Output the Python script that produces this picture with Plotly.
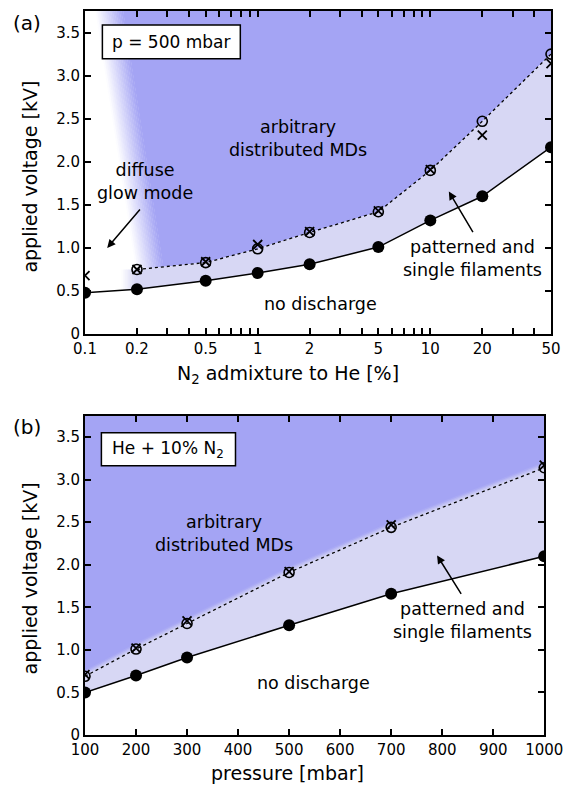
import numpy as np
import plotly.graph_objects as go

# ---------------- data ----------------
# (a) N2 admixture scan at p = 500 mbar
n2_pct = [0.1, 0.2, 0.5, 1, 2, 5, 10, 20, 50]
a_onset = [0.48, 0.52, 0.62, 0.71, 0.81, 1.01, 1.32, 1.60, 2.17]
a_upper_circle = [None, 0.75, 0.83, 0.99, 1.18, 1.42, 1.90, 2.47, 3.25]
a_upper_cross = [0.68, 0.75, 0.84, 1.04, 1.19, 1.43, 1.91, 2.31, 3.14]
n2_tick_vals = [0.1, 0.2, 0.5, 1, 2, 5, 10, 20, 50]
n2_tick_text = ["0.1", "0.2", "0.5", "1", "2", "5", "10", "20", "50"]
n2_minor_vals = [0.3, 0.4, 0.6, 0.7, 0.8, 0.9, 3, 4, 6, 7, 8, 9, 30, 40]

# (b) pressure scan, He + 10% N2
pressure = [100, 200, 300, 500, 700, 1000]
b_onset = [0.50, 0.70, 0.91, 1.29, 1.66, 2.10]
b_upper_circle = [0.69, 1.01, 1.31, 1.91, 2.44, 3.14]
b_upper_cross = [0.71, 1.02, 1.34, 1.92, 2.47, 3.17]
p_tick_vals = [100, 200, 300, 400, 500, 600, 700, 800, 900, 1000]

volt_tick_vals = [0, 0.5, 1.0, 1.5, 2.0, 2.5, 3.0, 3.5]
volt_tick_text = ["0", "0.5", "1.0", "1.5", "2.0", "2.5", "3.0", "3.5"]

V_MAX = 3.75
FONT = "DejaVu Sans"
DARK = (164, 164, 244)
LIGHT = (215, 215, 244)
WHITE = (255, 255, 255)


def blend(c0, c1, t):
    r, g, b = (round(a + (b_ - a) * t) for a, b_ in zip(c0, c1))
    return f"rgb({r},{g},{b})"


fig = go.Figure()


def poly(xs, ys, color, xa, ya):
    fig.add_trace(go.Scatter(
        x=list(xs) + [xs[0]], y=list(ys) + [ys[0]], mode="lines",
        fill="toself", fillcolor=color, line=dict(width=0),
        hoverinfo="skip", showlegend=False, xaxis=xa, yaxis=ya))


# ---------------- panel (a) regions ----------------
xa_min, xa_max = n2_pct[0], n2_pct[-1]
up_x = n2_pct[1:]
up_y = a_upper_circle[1:]

# slanted soft edge between the diffuse-glow and MD regions (log-x vs voltage)
U0, SLOPE, HW, NS = -0.566, -0.0783, 0.08, 16


def edge_x(v, off):
    return 10 ** (U0 + SLOPE * v + off)


for k in range(NS):
    lo = -HW + 2 * HW * k / NS
    hi = -HW + 2 * HW * (k + 1) / NS + 0.002
    poly([edge_x(V_MAX, lo), edge_x(V_MAX, hi), edge_x(0, hi), edge_x(0, lo)],
         [V_MAX, V_MAX, 0, 0], blend(WHITE, DARK, (k + 0.5) / NS), "x", "y")
poly([edge_x(V_MAX, HW), xa_max, xa_max, edge_x(0, HW)],
     [V_MAX, V_MAX, 0, 0], blend(WHITE, DARK, 1), "x", "y")

# everything below the upper threshold curve is cleared
poly([xa_min] + up_x + [xa_max, xa_min], [up_y[0]] + up_y + [0, 0],
     "white", "x", "y")

# soft left edge of the filamentary region
C_L, HWL, NL = -0.75, 0.04, 8
for k in range(NL):
    lo = C_L - HWL + 2 * HWL * k / NL
    hi = C_L - HWL + 2 * HWL * (k + 1) / NL + 0.002
    poly([10 ** lo, 10 ** hi, 10 ** hi, 10 ** lo], [0, 0, up_y[0], up_y[0]],
         blend(WHITE, LIGHT, (k + 0.5) / NL), "x", "y")
xr = 10 ** (C_L + HWL)
poly([xr] + up_x + [xa_max, xr], [up_y[0]] + up_y + [0, 0],
     blend(WHITE, LIGHT, 1), "x", "y")

# no discharge below the ignition curve
poly([xa_min] + n2_pct + [xa_max], [0] + a_onset + [0], "white", "x", "y")

# ---------------- panel (b) regions ----------------
xb_min, xb_max = pressure[0], pressure[-1]
poly([xb_min, xb_max, xb_max, xb_min], [0, 0, V_MAX, V_MAX],
     blend(WHITE, DARK, 1), "x2", "y2")
SOFT, NB = 0.07, 4
for k in range(NB, 0, -1):
    off = SOFT * k / NB
    ys = [v + off for v in b_upper_circle]
    poly([xb_min] + pressure + [xb_max], [0] + ys + [0],
         blend(LIGHT, DARK, (k - 0.5) / NB), "x2", "y2")
poly([xb_min] + pressure + [xb_max], [0] + b_upper_circle + [0],
     blend(WHITE, LIGHT, 1), "x2", "y2")
poly([xb_min] + pressure + [xb_max], [0] + b_onset + [0], "white", "x2", "y2")


# ---------------- lines and markers ----------------
def series(xs, onset, circ, cross, xa, ya):
    fig.add_trace(go.Scatter(x=xs, y=circ, mode="lines", connectgaps=False,
                             line=dict(color="black", width=1.3, dash="dot"),
                             showlegend=False, xaxis=xa, yaxis=ya))
    fig.add_trace(go.Scatter(x=xs, y=onset, mode="lines+markers",
                             line=dict(color="black", width=1.5),
                             marker=dict(symbol="circle", size=12, color="black"),
                             showlegend=False, xaxis=xa, yaxis=ya))
    fig.add_trace(go.Scatter(x=xs, y=circ, mode="markers",
                             marker=dict(symbol="circle-open", size=10,
                                         color="black", line=dict(width=1.6)),
                             showlegend=False, xaxis=xa, yaxis=ya))
    fig.add_trace(go.Scatter(x=xs, y=cross, mode="markers",
                             marker=dict(symbol="x-thin-open", size=9,
                                         color="black", line=dict(width=1.8)),
                             showlegend=False, xaxis=xa, yaxis=ya))


series(n2_pct, a_onset, a_upper_circle, a_upper_cross, "x", "y")
series(pressure, b_onset, b_upper_circle, b_upper_cross, "x2", "y2")

# ---------------- axes ----------------
axis_common = dict(showline=True, linewidth=2, linecolor="black", mirror="ticks",
                   ticks="inside", ticklen=6, tickwidth=2, tickcolor="black",
                   showgrid=False, zeroline=False,
                   tickfont=dict(family=FONT, size=15, color="black"))

fig.update_layout(
    width=579, height=789,
    margin=dict(l=85, r=11, t=9, b=54),
    paper_bgcolor="white", plot_bgcolor="white",
    font=dict(family=FONT, color="black"),
    xaxis=dict(type="log", range=[np.log10(xa_min), np.log10(xa_max)],
               tickvals=n2_tick_vals, ticktext=n2_tick_text,
               minor=dict(tickvals=n2_minor_vals, ticks="inside", ticklen=6,
                          tickwidth=2, tickcolor="black"),
               domain=[0, 1], anchor="y", **axis_common),
    yaxis=dict(range=[0, V_MAX], tickvals=volt_tick_vals, ticktext=volt_tick_text,
               domain=[0.5537, 1], anchor="x", **axis_common),
    xaxis2=dict(range=[xb_min, xb_max], tickvals=p_tick_vals,
                domain=[0, 0.9855], anchor="y2", **axis_common),
    yaxis2=dict(range=[0, V_MAX], tickvals=volt_tick_vals, ticktext=volt_tick_text,
                domain=[0, 0.4408], anchor="x2", **axis_common),
)

# ---------------- text ----------------
TXT = 17.5


def label(text, x, y, xref, yref, size=TXT, xanchor="center", **kw):
    fig.add_annotation(text=text, x=x, y=y, xref=xref, yref=yref,
                       xanchor=xanchor, yanchor="middle",
                       showarrow=False, font=dict(family=FONT, size=size,
                                                  color="black"), **kw)


def arrow(x, y, ax, ay, xref, yref):
    fig.add_annotation(text="", x=x, y=y, xref=xref, yref=yref, ax=ax, ay=ay,
                       showarrow=True, arrowhead=2, arrowsize=1.1,
                       arrowwidth=1.5, arrowcolor="black")


lg = np.log10
label("arbitrary<br>distributed MDs", lg(1.72), 2.27, "x", "y")
label("diffuse<br>glow mode", lg(0.222), 1.77, "x", "y")
label("patterned and<br>single filaments", lg(17.6), 0.88, "x", "y")
label("no discharge", lg(2.31), 0.35, "x", "y")
arrow(lg(0.1345), 1.0, 34, -40, "x", "y")
arrow(lg(12.8), 1.655, 25, 42, "x", "y")

label("arbitrary<br>distributed MDs", 372, 2.37, "x2", "y2")
label("patterned and<br>single filaments", 839, 1.34, "x2", "y2")
label("no discharge", 548, 0.61, "x2", "y2")
arrow(790, 2.11, 25, 40, "x2", "y2")

# condition boxes
fig.add_shape(type="rect", xref="x domain", yref="y domain",
              x0=0.0373, x1=0.3333, y0=0.8519, y1=0.9568,
              line=dict(color="black", width=1.5), fillcolor="white")
label("p = 500 mbar", 0.1853, 0.9043, "x domain", "y domain", size=17)
fig.add_shape(type="rect", xref="x2 domain", yref="y2 domain",
              x0=0.0357, x1=0.3277, y0=0.8438, y1=0.9469,
              line=dict(color="black", width=1.5), fillcolor="white")
label("He + 10% N<sub>2</sub>", 0.1817, 0.8953, "x2 domain", "y2 domain", size=17)

# panel tags
label("(a)", -0.159, 0.983, "paper", "paper", size=20, xanchor="left")
label("(b)", -0.159, 0.4256, "paper", "paper", size=20, xanchor="left")

# axis titles
label("applied voltage [kV]", -0.118, 0.7713, "paper", "paper", size=19,
      textangle=-90)
label("applied voltage [kV]", -0.118, 0.2163, "paper", "paper", size=19,
      textangle=-90)
label("N<sub>2</sub> admixture to He [%]", 0.4348, 0.4986, "paper", "paper",
      size=19)
label("pressure [mbar]", 0.4348, -0.0523, "paper", "paper", size=19)

fig.write_html("out.html")
